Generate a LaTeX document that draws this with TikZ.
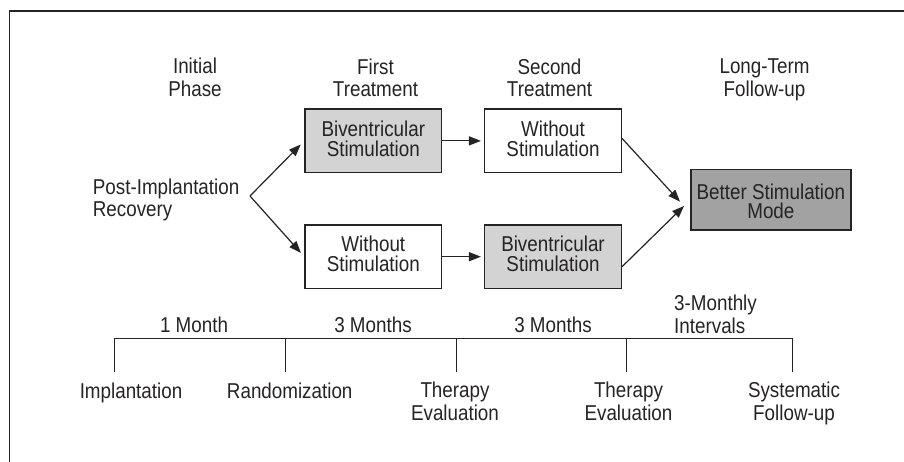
\documentclass[tikz,border=0pt]{standalone}
\usepackage{fontspec}
\setmainfont[FakeStretch=0.875]{Liberation Sans}
\usetikzlibrary{arrows.meta,calc}
\definecolor{ink}{HTML}{262324}
\definecolor{lightfill}{HTML}{D3D3D3}
\definecolor{darkfill}{HTML}{A2A2A2}
\newcommand{\firstline}[1]{\rule{0pt}{#1}}
\begin{document}
\begin{tikzpicture}[x=1pt,y=-1pt,
  txt/.style={inner sep=0pt, font=\fontsize{21.5}{20}\selectfont, text=ink},
  lbl/.style={txt, align=center},
  box/.style={txt, align=center, draw=ink, line width=1.4pt,
    minimum width=136.7pt, minimum height=63.7pt},
  arr/.style={draw=ink, line width=1.2pt, -{Triangle[length=12pt,width=9pt]}},
  rule/.style={draw=ink, line width=1.5pt}
]
\useasboundingbox (0,0) rectangle (904,462);
% frame
\draw[rule, line width=1.7pt] (9.5,462) -- (9.5,11) -- (904,11);

% headers
\node[lbl] (hInit)   at (195,80.5)   {\strut Initial\\\strut Phase};
\node[lbl] (hFirst)  at (375.5,80.5) {\strut First\\\strut Treatment};
\node[lbl] (hSecond) at (549.5,80.5) {\strut Second\\\strut Treatment};
\node[lbl] (hLong)   at (764.5,80.5) {\strut Long-Term\\\strut Follow-up};

% start
\node[txt, align=left, anchor=west] (post) at (92.7,201) {\strut Post-Implantation\\\strut Recovery};
\coordinate (fork) at (250,196);

% boxes
\node[box, fill=lightfill] (b1) at (373.3,140.9) {\firstline{16.5pt}Biventricular\\\strut Stimulation};
\node[box, fill=white]     (w1) at (553,140.9)   {\firstline{16.5pt}Without\\\strut Stimulation};
\node[box, fill=white]     (w2) at (373.3,256.7) {\firstline{16.5pt}Without\\\strut Stimulation};
\node[box, fill=lightfill] (b2) at (553,256.7)   {\firstline{16.5pt}Biventricular\\\strut Stimulation};
\node[box, fill=darkfill, minimum width=160pt, minimum height=60.7pt] (bet) at (770.85,199.65)
  {\firstline{24.7pt}Better Stimulation\\\strut Mode};

\coordinate (tipU) at (680,201.7);
\coordinate (tipL) at (684,206);

% arrows
\draw[arr, shorten >=5pt] (fork) -- (b1.west);
\draw[arr, shorten >=5pt] (fork) -- (w2.west);
\draw[arr, shorten >=3pt] (b1.east) -- (w1.west);
\draw[arr, shorten >=3pt] (w2.east) -- (b2.west);
\draw[arr] ([yshift=2.5pt]w1.east) -- (tipU);
\draw[arr] ([yshift=-10pt]b2.east) -- (tipL);

% timeline
\coordinate (t1) at (114.3,338.3);
\coordinate (t2) at (285.7,338.3);
\coordinate (t3) at (456.7,338.3);
\coordinate (t4) at (626.7,338.3);
\coordinate (t5) at (792.7,338.3);
\draw[rule] ($(t1)+(0,33.4)$) -- (t1) -- (t5) -- ($(t5)+(0,33.4)$);
\draw[rule] (t2) -- ++(0,33.4);
\draw[rule] (t3) -- ++(0,33.4);
\draw[rule] (t4) -- ++(0,33.4);

\node[lbl] (m1) at (194,327.7) {\strut 1 Month};
\node[lbl] (m2) at (373,327.7) {\strut 3 Months};
\node[lbl] (m3) at (553,327.7) {\strut 3 Months};
\node[txt, align=left, anchor=west] (m4) at (674,317) {\strut 3-Monthly\\\strut Intervals};

\node[lbl] (e1) at (131,394)   {\strut Implantation};
\node[lbl] (e2) at (289.7,394) {\strut Randomization};
\node[lbl] (e3) at (455,404)   {\strut Therapy\\\strut Evaluation};
\node[lbl] (e4) at (628.5,404) {\strut Therapy\\\strut Evaluation};
\node[lbl] (e5) at (794,404)   {\strut Systematic\\\strut Follow-up};
\end{tikzpicture}
\end{document}
